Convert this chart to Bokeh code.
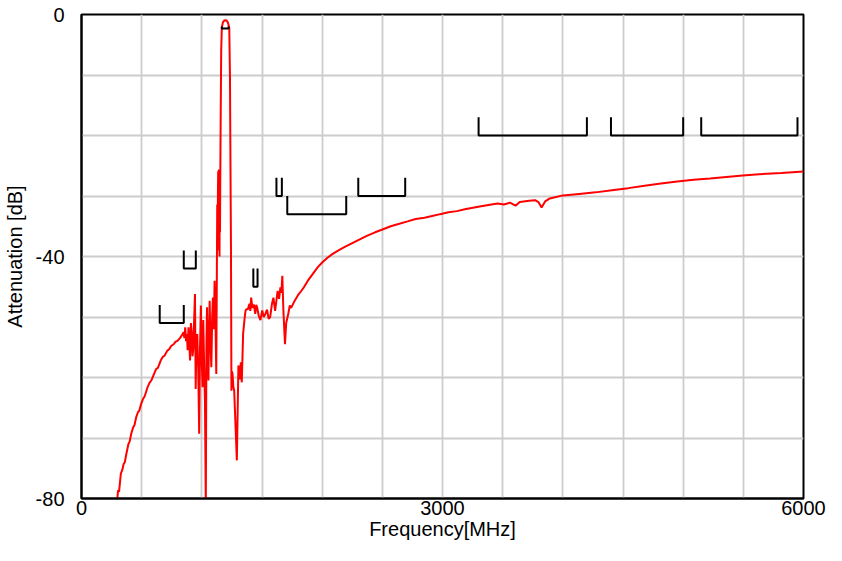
from bokeh.plotting import figure
from bokeh.models import FixedTicker, Range1d, SingleIntervalTicker
from bokeh.embed import file_html
from bokeh.resources import INLINE

# ---------------- data ----------------
# low-side skirt (MHz, dB)
low_f = [290, 297, 305, 312, 327, 340, 350, 360, 373, 390, 400, 413, 430, 440, 454,
         470, 480, 495, 510, 525, 549, 565, 580, 603, 620, 635, 658, 675, 690, 712,
         730, 745, 766, 780, 800, 821, 835, 848]
low_db = [-81, -80, -78.6, -78.9, -75.9, -75.2, -74.3, -74.0, -72.6, -71.0, -70.6, -69.3, -68.2, -67.9, -66.6,
          -65.7, -65.5, -64.4, -63.6, -63.1, -61.6, -60.9, -60.5, -59.4, -58.6, -58.4, -57.2, -56.6, -56.4, -55.6,
          -55.3, -54.8, -54.5, -54.1, -53.9, -53.4, -53.0, -52.5]

# spurious region + passband
band_f = [855, 862, 869, 876, 882, 889, 895, 902, 909, 916, 922, 929, 936, 943, 949,
          955, 962, 970, 978, 985, 992, 999, 1006, 1012, 1019, 1026, 1033, 1038, 1043, 1049,
          1055, 1060, 1065, 1072, 1079, 1086, 1092, 1100, 1106, 1113, 1120, 1125, 1128, 1131, 1134,
          1136, 1139, 1141, 1143, 1145, 1147, 1149, 1151, 1153, 1157, 1161, 1166, 1175, 1186, 1196,
          1206, 1216, 1228, 1234, 1238, 1242, 1246, 1250, 1255, 1262, 1269, 1280, 1291, 1304, 1316,
          1324, 1332, 1343, 1356, 1363, 1370, 1383, 1396, 1403, 1410, 1420, 1432, 1444, 1452, 1459,
          1473, 1487, 1502, 1514, 1528, 1542, 1555, 1568, 1583, 1595, 1609, 1630, 1642, 1653, 1661,
          1669, 1678, 1691, 1701, 1718, 1731, 1742, 1772]
band_db = [-53.5, -51.7, -54.0, -52.8, -55.5, -51.7, -53.8, -57.2, -51.0, -52.5, -56.5, -55.3, -50.5, -46.2, -61.9,
           -54.0, -52.8, -58.5, -69.3, -55.0, -48.1, -57.0, -61.6, -50.5, -57.8, -64.0, -82, -55.0, -48.4, -57.5,
           -60.5, -52.0, -47.3, -54.5, -58.3, -50.0, -46.8, -52, -44, -50, -59.4, -42, -31.4, -38, -29.0,
           -25.9, -35, -25.6, -39.0, -33, -40.0, -26, -36.0, -28, -16, -6, -2.2, -1.3, -1.0, -0.94,
           -1.0, -1.3, -2.2, -10.5, -25, -38, -62.2, -59.0, -59.4, -61.5, -62.2, -68.0, -73.7, -58, -60.3,
           -57.5, -60.8, -52.8, -50.1, -49.0, -48.7, -48.7, -47.8, -49.0, -46.8, -48.5, -47.9, -49.5, -48.0, -48.4,
           -49.8, -50.5, -48.9, -50, -49.5, -48.8, -50.3, -50, -47.8, -46.8, -49, -45.7, -47, -45.1, -46,
           -43.2, -49, -54.5, -51, -49.5, -48.1, -48.5, -47.3]

# high-side stopband
high_f = [1799, 1826, 1848, 1881, 1921, 1962, 2000, 2044, 2085, 2125, 2180, 2234, 2300, 2371, 2440,
          2506, 2570, 2641, 2710, 2777, 2850, 2914, 2980, 3049, 3120, 3185, 3320, 3457, 3511, 3560,
          3607, 3642, 3674, 3720, 3770, 3797, 3823, 3853, 3892, 4000, 4136, 4272, 4408, 4544, 4680,
          4815, 4951, 5087, 5223, 5359, 5495, 5631, 5816, 6000]
high_db = [-46.4, -45.7, -45.1, -44, -42.9, -41.8, -41.0, -40.2, -39.6, -39.1, -38.5, -37.95, -37.3, -36.6, -36.0,
           -35.5, -35.0, -34.6, -34.2, -33.8, -33.6, -33.3, -33.0, -32.7, -32.5, -32.2, -31.7, -31.25, -31.4, -31.1,
           -31.6, -31.0, -30.9, -30.8, -30.7, -31.0, -31.9, -30.9, -30.4, -29.9, -29.65, -29.4, -29.05, -28.7, -28.3,
           -27.95, -27.6, -27.3, -27.1, -26.85, -26.6, -26.4, -26.2, -25.95]

# specification masks: start MHz, stop MHz, level dB, tick height dB
spec_lo = [650, 850, 1428, 1620, 1710, 2300, 3300, 4400, 5150, 1166]
spec_hi = [850, 950, 1463, 1665, 2200, 2690, 4200, 5000, 5950, 1222]
spec_lvl = [-51, -42, -45, -30, -33, -30, -20, -20, -20, -2.3]
spec_tick = [3, 3, 3, 3, 3, 3, 3, 3, 3, 0.3]

x_ticks = [0, 3000, 6000]
y_ticks = [0, -40, -80]
y_tick_labels = {0: "0", -40: "-40", -80: "-80"}
x_grid_step = 500
y_grid_step = 10

freq = low_f + band_f + high_f
atten = low_db + band_db + high_db

FONT = "Liberation Sans"

p = figure(width=826, height=545, output_backend="svg", toolbar_location=None,
           x_range=Range1d(0, 6000), y_range=Range1d(-80, 0),
           min_border_left=79, min_border_right=23, min_border_top=14, min_border_bottom=47)
p.background_fill_color = "white"
p.border_fill_color = "white"
p.outline_line_color = "black"
p.outline_line_width = 2

p.xgrid.ticker = SingleIntervalTicker(interval=x_grid_step, num_minor_ticks=0)
p.ygrid.ticker = SingleIntervalTicker(interval=y_grid_step, num_minor_ticks=0)
for g in (p.xgrid, p.ygrid):
    g.grid_line_color = "#cccccc"
    g.grid_line_width = 1.8

p.xaxis.ticker = FixedTicker(ticks=x_ticks)
p.yaxis.ticker = FixedTicker(ticks=y_ticks)
p.yaxis.major_label_overrides = y_tick_labels
for ax in (p.xaxis, p.yaxis):
    ax.axis_line_color = "black"
    ax.axis_line_width = 2
    ax.major_tick_line_color = None
    ax.minor_tick_line_color = None
    ax.major_tick_out = 0
    ax.major_tick_in = 0
    ax.minor_tick_out = 0
    ax.major_label_text_font = FONT
    ax.major_label_text_font_size = "20px"
    ax.major_label_text_color = "black"
    ax.axis_label_text_font = FONT
    ax.axis_label_text_font_size = "20px"
    ax.axis_label_text_font_style = "normal"
    ax.axis_label_text_color = "black"

p.xaxis.axis_label = "Frequency[MHz]"
p.yaxis.axis_label = "Attenuation [dB]"
p.xaxis.major_label_standoff = 2
p.xaxis.axis_label_standoff = 0
p.yaxis.major_label_standoff = 17
p.yaxis.axis_label_standoff = 7

p.line(freq, atten, line_color="red", line_width=2)

xs = [[a, a, b, b] for a, b in zip(spec_lo, spec_hi)]
ys = [[l + t, l, l, l + t] for l, t in zip(spec_lvl, spec_tick)]
p.multi_line(xs, ys, line_color="black", line_width=2)

open("out.html", "w").write(file_html(p, INLINE))
